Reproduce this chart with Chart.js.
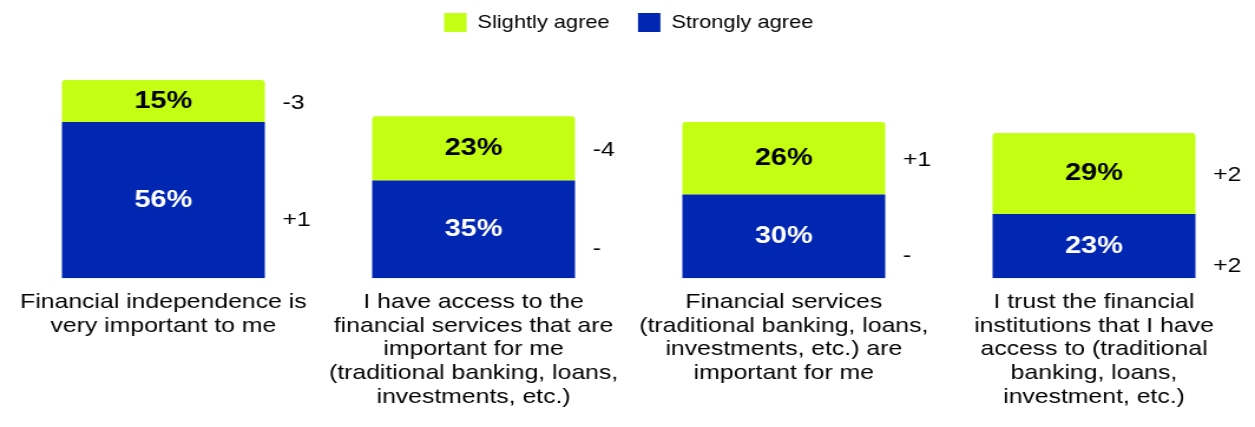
<!DOCTYPE html>
<html>
<head>
<meta charset="utf-8">
<script src="https://cdn.jsdelivr.net/npm/chart.js@4"></script>
<style>
  html, body { margin: 0; padding: 0; background: #fff; }
</style>
</head>
<body>
<canvas id="agreeChart" width="1064" height="427" style="display:block;width:1255px;height:427px"></canvas>
<script>
const categories = [
  ["Financial independence is", "very important to me"],
  ["I have access to the", "financial services that are", "important for me", "(traditional banking, loans,", "investments, etc.)"],
  ["Financial services", "(traditional banking, loans,", "investments, etc.) are", "important for me"],
  ["I trust the financial", "institutions that I have", "access to (traditional", "banking, loans,", "investment, etc.)"]
];
const stronglyAgree = [56, 35, 30, 23];
const slightlyAgree = [15, 23, 26, 29];
const stronglyChange = ["+1", "-", "-", "+2"];
const slightlyChange = ["-3", "-4", "+1", "+2"];

const FONT = "'Liberation Sans', Arial, sans-serif";
const LIME = "#c4fe12";
const BLUE = "#0026b2";

// percentages inside each segment, change vs. last wave to the right of it
const segmentLabels = {
  id: "segmentLabels",
  afterDatasetsDraw(chart) {
    const ctx = chart.ctx;
    ctx.save();
    ctx.textBaseline = "middle";
    chart.data.datasets.forEach((ds, di) => {
      const meta = chart.getDatasetMeta(di);
      meta.data.forEach((bar, i) => {
        const cy = (bar.y + bar.base) / 2;
        ctx.font = "bold 24.5px " + FONT;
        ctx.textAlign = "center";
        ctx.fillStyle = ds.valueColor;
        ctx.fillText(ds.data[i] + "%", bar.x, cy);

        ctx.font = "21px " + FONT;
        ctx.textAlign = "left";
        ctx.fillStyle = "#000";
        const dy = di === 0 ? 20 : 2;
        ctx.fillText(ds.changes[i], bar.x + bar.width / 2 + 15, cy + dy);
      });
    });
    ctx.restore();
  }
};

new Chart(document.getElementById("agreeChart"), {
  type: "bar",
  data: {
    labels: categories,
    datasets: [
      {
        label: "Strongly agree",
        data: stronglyAgree,
        changes: stronglyChange,
        valueColor: "#fff",
        backgroundColor: BLUE,
        borderSkipped: false,
        borderRadius: 0
      },
      {
        label: "Slightly agree",
        data: slightlyAgree,
        changes: slightlyChange,
        valueColor: "#000",
        backgroundColor: LIME,
        borderSkipped: false,
        borderRadius: { topLeft: 3, topRight: 3, bottomLeft: 0, bottomRight: 0 }
      }
    ]
  },
  options: {
    responsive: false,
    animation: false,
    devicePixelRatio: 1,
    layout: { padding: { top: -11, left: 7, right: 5, bottom: 6 } },
    datasets: {
      bar: { categoryPercentage: 1, barPercentage: 0.654 }
    },
    plugins: {
      tooltip: { enabled: false },
      legend: {
        reverse: true,
        labels: {
          boxWidth: 19,
          boxHeight: 19,
          padding: 24,
          color: "#000",
          font: { family: FONT, size: 18.5 }
        }
      }
    },
    scales: {
      x: {
        stacked: true,
        grid: { display: false, drawTicks: false },
        border: { display: false },
        ticks: {
          autoSkip: false,
          maxRotation: 0,
          padding: 12,
          color: "#000",
          font: { family: FONT, size: 21, lineHeight: 1.13 }
        }
      },
      y: {
        stacked: true,
        display: false,
        min: 0,
        max: 84.6
      }
    }
  },
  plugins: [segmentLabels]
});
</script>
</body>
</html>
